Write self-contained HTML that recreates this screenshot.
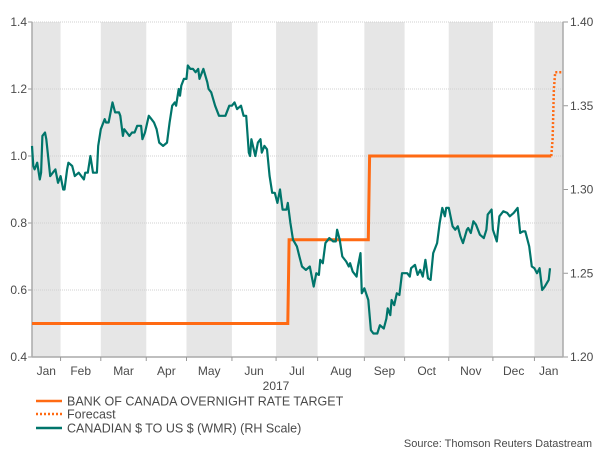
<!DOCTYPE html>
<html><head><meta charset="utf-8"><style>
body{margin:0;background:#fff;width:600px;height:450px;overflow:hidden;font-family:"Liberation Sans",Arial,sans-serif}
svg text{font-family:"Liberation Sans",Arial,sans-serif;fill:#4a4a4a}
</style></head><body>
<svg id="chart" width="600" height="450" xmlns="http://www.w3.org/2000/svg"></svg>
<script>
const monthLabels=["Jan","Feb","Mar","Apr","May","Jun","Jul","Aug","Sep","Oct","Nov","Dec","Jan"];
const monthBounds=[0,22,53,88,119,154,188,220,256,287,321,355,387,409];
const leftTicks=[0.4,0.6,0.8,1.0,1.2,1.4];
const leftTickLabels=["0.4","0.6","0.8","1.0","1.2","1.4"];
const rightTicks=[1.20,1.25,1.30,1.35,1.40];
const rightTickLabels=["1.20","1.25","1.30","1.35","1.40"];
const rateDays=[0,197,198,259,260,400];
const rateVals=[0.5,0.5,0.75,0.75,1.0,1.0];
const fcDays=[400,401,402,403,409];
const fcVals=[1.0,1.05,1.2,1.25,1.25];
const cadDays=[0,1,2,4,6,7,8,10,11,14,16,18,20,22,24,25,27,28,31,33,36,38,40,41,43,45,47,50,51,53,56,57,59,62,64,67,68,70,71,73,75,77,79,81,83,84,85,87,90,92,94,96,98,101,104,106,108,110,111,113,114,115,117,119,120,122,124,126,128,129,131,132,135,136,138,141,144,147,149,152,154,156,158,161,163,165,167,168,169,172,174,176,177,179,181,183,185,187,189,191,193,196,197,199,201,204,206,208,211,214,217,219,221,222,224,226,229,232,234,235,237,239,242,244,245,247,250,251,253,254,256,259,261,263,266,268,271,273,274,276,277,279,281,283,285,289,291,292,295,297,299,301,303,305,307,309,312,314,316,318,319,321,324,326,328,330,332,335,336,338,340,342,345,348,350,351,354,355,358,360,363,366,368,371,374,376,378,380,383,385,387,389,391,393,395,398,399];
const cadVals=[1.326,1.314,1.312,1.316,1.306,1.31,1.332,1.334,1.33,1.308,1.31,1.312,1.304,1.308,1.30,1.30,1.312,1.316,1.314,1.308,1.31,1.308,1.306,1.31,1.31,1.32,1.31,1.31,1.326,1.336,1.342,1.34,1.34,1.352,1.346,1.346,1.344,1.332,1.336,1.334,1.332,1.334,1.334,1.338,1.338,1.338,1.33,1.334,1.344,1.342,1.34,1.336,1.328,1.326,1.328,1.34,1.35,1.352,1.35,1.36,1.356,1.362,1.366,1.366,1.374,1.372,1.372,1.37,1.372,1.366,1.37,1.372,1.364,1.36,1.358,1.35,1.344,1.344,1.344,1.35,1.35,1.352,1.348,1.35,1.344,1.344,1.322,1.32,1.33,1.32,1.328,1.33,1.322,1.326,1.324,1.308,1.298,1.298,1.292,1.30,1.288,1.288,1.292,1.28,1.27,1.266,1.26,1.254,1.252,1.254,1.242,1.25,1.249,1.258,1.256,1.268,1.271,1.269,1.269,1.276,1.27,1.26,1.257,1.254,1.256,1.251,1.248,1.254,1.262,1.238,1.241,1.234,1.216,1.214,1.214,1.219,1.217,1.223,1.229,1.225,1.234,1.231,1.238,1.237,1.25,1.25,1.248,1.253,1.255,1.249,1.252,1.248,1.258,1.247,1.246,1.262,1.268,1.28,1.289,1.284,1.289,1.289,1.278,1.276,1.278,1.272,1.268,1.276,1.277,1.274,1.281,1.279,1.273,1.271,1.276,1.285,1.288,1.276,1.269,1.284,1.287,1.286,1.284,1.286,1.289,1.274,1.275,1.275,1.266,1.254,1.253,1.25,1.253,1.24,1.242,1.246,1.253];

const X0=32,X1=563,Y0=357,Y1=22;
const xs=d=>X0+(d-0)/(409-0)*(X1-X0);
const yL=v=>Y0-(v-0.4)/(1.4-0.4)*(Y0-Y1);
const yR=v=>Y0-(v-1.2)/(1.4-1.2)*(Y0-Y1);
const svg=document.getElementById('chart');
const NS="http://www.w3.org/2000/svg";
function mk(tag,attrs,parent){const e=document.createElementNS(NS,tag);for(const k in attrs)e.setAttribute(k,attrs[k]);(parent||svg).appendChild(e);return e;}

for(let i=0;i<monthBounds.length-1;i++){
  if(i%2===0){
    const r=mk('rect',{x:xs(monthBounds[i]),y:Y1,width:xs(monthBounds[i+1])-xs(monthBounds[i]),height:Y0-Y1,fill:'#e6e6e6'});
    
    
  }
}
leftTicks.forEach((v,i)=>{
  const g=mk('line',{x1:X0,x2:X1,y1:yL(v),y2:yL(v),stroke:'#d0d0d0','stroke-width':1,'stroke-dasharray':'1,1'});
  
  
  const t=mk('line',{x1:X0-4,x2:X0,y1:yL(v),y2:yL(v),stroke:'#999'});
  
  
  const l=mk('text',{x:27,y:yL(v)+4,'text-anchor':'end','font-size':12});
  l.textContent=leftTickLabels[i];
  
  
});
rightTicks.forEach((v,i)=>{
  const t=mk('line',{x1:X1,x2:X1+5,y1:yR(v),y2:yR(v),stroke:'#999'});
  
  
  const l=mk('text',{x:570,y:yR(v)+4,'font-size':12});
  l.textContent=rightTickLabels[i];
  
  
});
let a=mk('line',{x1:X0,x2:X0,y1:Y1,y2:Y0,stroke:'#aaa','stroke-width':1.5});

a=mk('line',{x1:X1,x2:X1,y1:Y1,y2:Y0,stroke:'#aaa','stroke-width':1.5});

a=mk('line',{x1:X0,x2:X1,y1:Y0,y2:Y0,stroke:'#aaa','stroke-width':1.5});

for(let i=1;i<monthBounds.length-1;i++){
  const t=mk('line',{x1:xs(monthBounds[i]),x2:xs(monthBounds[i]),y1:Y0,y2:Y0+4,stroke:'#999'});
  
  
}
monthLabels.forEach((m,i)=>{
  const cx=(xs(monthBounds[i])+xs(monthBounds[i+1]))/2;
  const l=mk('text',{x:cx,y:375,'text-anchor':'middle','font-size':12});
  l.textContent=m;
  
  
});
let yr=mk('text',{x:276,y:390,'text-anchor':'middle','font-size':12});
yr.textContent='2017';

function path(days,vals,ys){return days.map((d,i)=>(i?'L':'M')+xs(d).toFixed(1)+','+ys(vals[i]).toFixed(1)).join('');}
let p=mk('path',{d:path(rateDays,rateVals,yL),fill:'none',stroke:'#ff6a13','stroke-width':3});

p=mk('path',{d:path(fcDays,fcVals,yL),fill:'none',stroke:'#ff6a13','stroke-width':2.5,'stroke-dasharray':'2,2'});

p=mk('path',{d:path(cadDays,cadVals,yR),fill:'none',stroke:'#00756b','stroke-width':2.2,'stroke-linejoin':'round'});


const leg=[['BANK OF CANADA OVERNIGHT RATE TARGET','#ff6a13',null,401,'legend-rate'],['Forecast','#ff6a13','2,2',414,'legend-forecast'],['CANADIAN $ TO US $ (WMR) (RH Scale)','#00756b',null,428,'legend-cad']];
leg.forEach(e=>{
  const g=mk('g',{});
  
  const at={x1:36,x2:62,y1:e[3],y2:e[3],stroke:e[1],'stroke-width':2.5};
  if(e[2])at['stroke-dasharray']=e[2];
  mk('line',at,g);
  const t=mk('text',{x:67,y:e[3]+4.5,'font-size':12.5},g);t.textContent=e[0];
});
let s=mk('text',{x:592,y:447,'text-anchor':'end','font-size':11});
s.textContent='Source: Thomson Reuters Datastream';
</script>
</body></html>
